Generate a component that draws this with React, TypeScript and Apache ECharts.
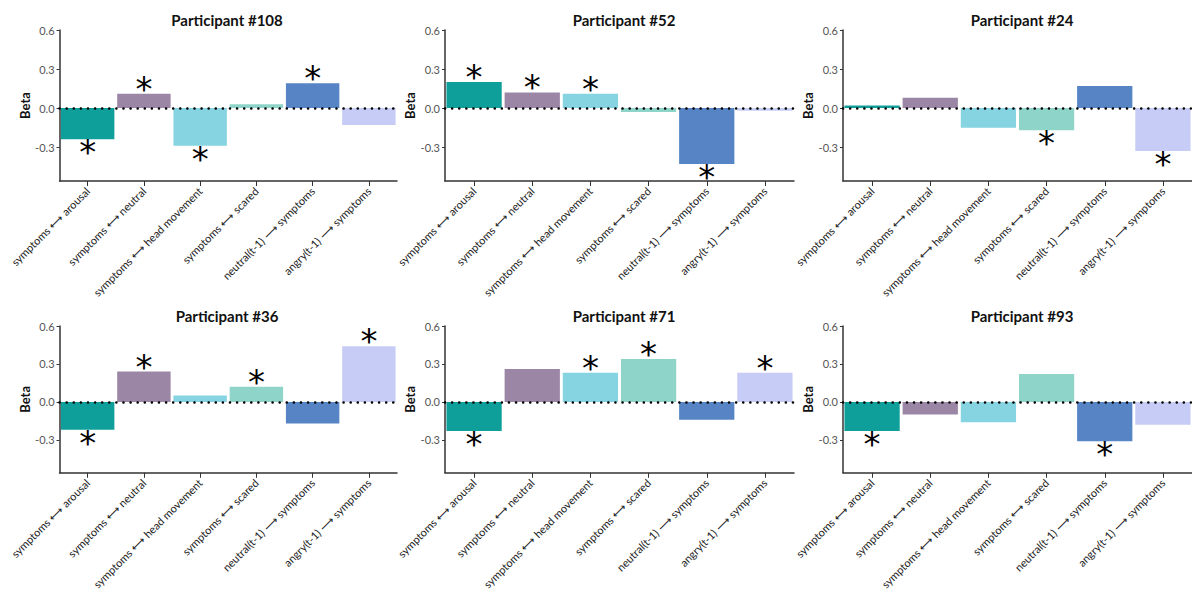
import React, { useEffect, useRef } from 'react';
import * as echarts from 'echarts';

const categories = [
  'symptoms ⟷ arousal',
  'symptoms ⟷ neutral',
  'symptoms ⟷ head movement',
  'symptoms ⟷ scared',
  'neutral(t-1) ⟶ symptoms',
  'angry(t-1) ⟶ symptoms',
];
const colors = ['#0f9f9b', '#9b87a5', '#86d4e2', '#8fd4c8', '#5784c4', '#c6ccf5'];
const participants = ['Participant #108', 'Participant #52', 'Participant #24', 'Participant #36', 'Participant #71', 'Participant #93'];
const betas = [
  [-0.24, 0.11, -0.29, 0.03, 0.19, -0.13],
  [0.2, 0.12, 0.11, -0.03, -0.43, -0.02],
  [0.02, 0.08, -0.15, -0.17, 0.17, -0.33],
  [-0.22, 0.24, 0.05, 0.12, -0.17, 0.44],
  [-0.23, 0.26, 0.23, 0.34, -0.14, 0.23],
  [-0.23, -0.1, -0.16, 0.22, -0.31, -0.18],
];
const significant = [
  [1, 1, 1, 0, 1, 0],
  [1, 1, 1, 0, 1, 0],
  [0, 0, 0, 1, 0, 1],
  [1, 1, 0, 1, 0, 1],
  [1, 0, 1, 1, 0, 1],
  [1, 0, 0, 0, 1, 0],
];
const yTicks = [-0.3, 0, 0.3, 0.6];

const FONT = 'Lato';

const App: React.FC = () => {
  const chartRef = useRef<HTMLDivElement>(null);

  useEffect(() => {
    const chart = echarts.init(chartRef.current!, null, { renderer: 'svg' });
    // page has an 8px body margin, so grid positions are shifted back by 8
    const lefts = [40, 437, 835];
    const tops = [22, 318];
    const grid: any[] = [], xAxis: any[] = [], yAxis: any[] = [], series: any[] = [], title: any[] = [];
    participants.forEach((p, i) => {
      const col = i % 3, row = Math.floor(i / 3);
      grid.push({ left: lefts[col], top: tops[row], width: 349, height: 151 });
      title.push({
        text: p, left: lefts[col] + 174, top: tops[row] - 23, textAlign: 'center',
        textStyle: { fontFamily: FONT, fontSize: 15, fontWeight: 'bold', color: '#111' },
      });
      xAxis.push({
        type: 'category', gridIndex: i, data: categories,
        axisLine: { onZero: false, lineStyle: { color: '#333', width: 1.5 } },
        axisTick: { show: true, alignWithLabel: true, lineStyle: { color: '#333' } },
        axisLabel: { rotate: 45, fontSize: 11, color: '#222', fontFamily: FONT, interval: 0, margin: 8 },
        position: 'bottom',
      });
      yAxis.push({
        type: 'value', gridIndex: i, min: -0.56, max: 0.6,
        name: 'Beta', nameLocation: 'middle', nameGap: 26,
        nameTextStyle: { fontFamily: FONT, fontSize: 13, fontWeight: 'bold', color: '#111' },
        splitLine: { show: false },
        axisLine: { show: true, lineStyle: { color: '#333', width: 1.5 } },
        axisTick: { show: true, length: 3, customValues: yTicks, lineStyle: { color: '#333' } },
        axisLabel: {
          customValues: yTicks, color: '#555', fontSize: 11, fontFamily: FONT, margin: 5,
          formatter: (v: number) => v.toFixed(1),
        },
      });
      series.push({
        type: 'bar', xAxisIndex: i, yAxisIndex: i, barCategoryGap: '5%',
        data: betas[i].map((v, j) => ({
          value: v,
          itemStyle: { color: colors[j] },
          label: {
            show: significant[i][j] === 1,
            position: v >= 0 ? 'top' : 'bottom',
            formatter: '*', fontSize: 34, color: '#000', fontFamily: 'DejaVu Sans',
            distance: v >= 0 ? -12 : -4,
          },
        })),
        markLine: {
          silent: true, symbol: 'none', label: { show: false },
          lineStyle: { type: [0.1, 7], color: '#000', width: 2.5, cap: 'round' },
          data: [{ yAxis: 0 }],
        },
      });
    });
    chart.setOption({ animation: false, title, grid, xAxis, yAxis, series, textStyle: { fontFamily: FONT } });
    return () => chart.dispose();
  }, []);

  return <div ref={chartRef} style={{ width: '1184px', height: '584px' }} />;
};

export default App;
